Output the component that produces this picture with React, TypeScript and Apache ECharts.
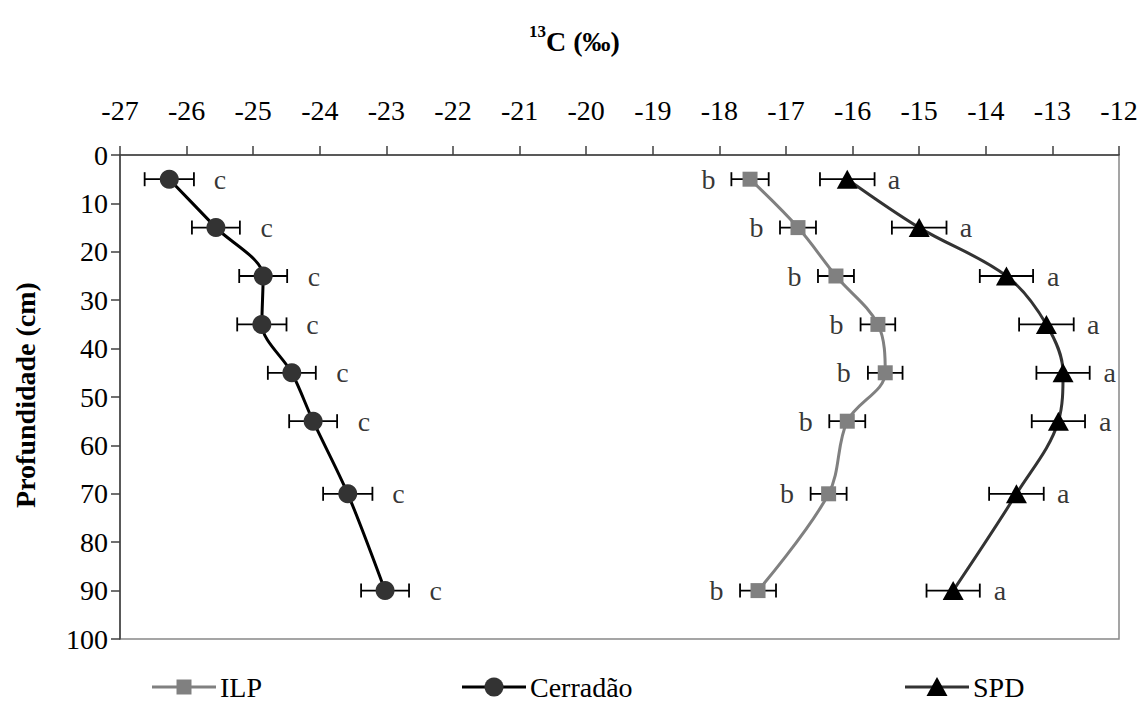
import React, { useEffect, useRef } from "react";
import * as echarts from "echarts";

const depths = [5, 15, 25, 35, 45, 55, 70, 90];
const cerradao = [-26.26, -25.56, -24.85, -24.87, -24.42, -24.1, -23.58, -23.02];
const ilp = [-17.54, -16.82, -16.25, -15.62, -15.51, -16.08, -16.36, -17.42];
const spd = [-16.08, -15.0, -13.69, -13.09, -12.84, -12.91, -13.54, -14.49];
const cerradaoErr = [0.37, 0.36, 0.36, 0.37, 0.36, 0.36, 0.37, 0.36];
const ilpErr = [0.28, 0.27, 0.27, 0.26, 0.26, 0.27, 0.27, 0.27];
const spdErr = [0.41, 0.41, 0.4, 0.41, 0.4, 0.4, 0.41, 0.4];
const cerradaoLetters = ["c", "c", "c", "c", "c", "c", "c", "c"];
const ilpLetters = ["b", "b", "b", "b", "b", "b", "b", "b"];
const spdLetters = ["a", "a", "a", "a", "a", "a", "a", "a"];
const xTicks = { min: -27, max: -12, interval: 1 };
const yTicks = { min: 0, max: 100, interval: 10 };
const seriesNames = ["ILP", "Cerradão", "SPD"];

const FAMILY = "'Liberation Serif'";
const FS = 28;

function pairs(xs: number[]) {
  return xs.map((x, i) => [x, depths[i]]);
}
function errData(xs: number[], es: number[]) {
  return xs.map((x, i) => [x, depths[i], es[i]]);
}
function tickValues(t: { min: number; max: number; interval: number }) {
  const out: number[] = [];
  for (let v = t.min; v <= t.max + 1e-9; v += t.interval) out.push(v);
  return out;
}

function errorBarSeries(xs: number[], es: number[]) {
  return {
    type: "custom",
    z: 1,
    silent: true,
    data: errData(xs, es),
    encode: { x: 0, y: 1 },
    renderItem: (params: any, api: any) => {
      const x = api.value(0);
      const y = api.value(1);
      const e = api.value(2);
      const p1 = api.coord([x - e, y]);
      const p2 = api.coord([x + e, y]);
      const h = 7;
      const st = { stroke: "#000", lineWidth: 1.8 };
      return {
        type: "group",
        children: [
          { type: "line", shape: { x1: p1[0], y1: p1[1], x2: p2[0], y2: p2[1] }, style: st },
          { type: "line", shape: { x1: p1[0], y1: p1[1] - h, x2: p1[0], y2: p1[1] + h }, style: st },
          { type: "line", shape: { x1: p2[0], y1: p2[1] - h, x2: p2[0], y2: p2[1] + h }, style: st },
        ],
      };
    },
  };
}

function letterSeries(xs: number[], letters: string[], position: string, distance: number) {
  return {
    type: "scatter",
    z: 5,
    silent: true,
    symbolSize: 1,
    itemStyle: { color: "rgba(0,0,0,0)" },
    data: pairs(xs),
    label: {
      show: true,
      position,
      distance,
      formatter: (p: any) => letters[p.dataIndex],
      fontFamily: "'Liberation Serif', 'DejaVu Serif', serif",
      fontSize: FS,
      color: "#000",
    },
  };
}

export default function App() {
  const ref = useRef<HTMLDivElement>(null);
  useEffect(() => {
    if (!ref.current) return;
    const chart = echarts.init(ref.current, null, { renderer: "svg" });
    const gridTop = 155;
    const gridLeft = 120;

    const txt = (
      x: number,
      y: number,
      text: string,
      opts: { size?: number; bold?: boolean; align?: string; rotation?: number } = {}
    ) => ({
      type: "text",
      x,
      y,
      rotation: opts.rotation || 0,
      silent: true,
      style: {
        text,
        fill: "#000",
        font: `${opts.bold ? "bold " : ""}${opts.size || FS}px ${FAMILY}`,
        align: opts.align || "center",
        verticalAlign: "middle",
      },
    });

    const baseOption: any = {
      animation: false,
      backgroundColor: "#fff",
      grid: {
        left: gridLeft,
        top: gridTop,
        width: 999,
        height: 484,
        show: true,
        borderColor: "#888",
        borderWidth: 1.5,
        backgroundColor: "transparent",
      },
      xAxis: {
        type: "value",
        position: "top",
        min: xTicks.min,
        max: xTicks.max,
        interval: xTicks.interval,
        axisLine: { show: true, lineStyle: { color: "#404040", width: 1.5 } },
        axisTick: { show: true, inside: false, length: 9, lineStyle: { color: "#404040", width: 1.5 } },
        axisLabel: { show: false },
        splitLine: { show: false },
      },
      yAxis: {
        type: "value",
        inverse: true,
        min: yTicks.min,
        max: yTicks.max,
        interval: yTicks.interval,
        axisLine: { show: true, lineStyle: { color: "#404040", width: 1.5 } },
        axisTick: { show: true, inside: false, length: 9, lineStyle: { color: "#404040", width: 1.5 } },
        axisLabel: { show: false },
        splitLine: { show: false },
      },
      series: [
        errorBarSeries(ilp, ilpErr),
        errorBarSeries(cerradao, cerradaoErr),
        errorBarSeries(spd, spdErr),
        {
          name: seriesNames[0],
          type: "line",
          z: 3,
          smooth: 0.35,
          data: pairs(ilp),
          symbol: "rect",
          symbolSize: 15,
          itemStyle: { color: "#808080" },
          lineStyle: { color: "#808080", width: 3 },
        },
        {
          name: seriesNames[1],
          type: "line",
          z: 3,
          smooth: 0.3,
          data: pairs(cerradao),
          symbol: "circle",
          symbolSize: 19,
          itemStyle: { color: "#333333" },
          lineStyle: { color: "#000", width: 3 },
        },
        {
          name: seriesNames[2],
          type: "line",
          z: 3,
          smooth: 0.35,
          data: pairs(spd),
          symbol: "triangle",
          symbolSize: [21, 19],
          itemStyle: { color: "#000" },
          lineStyle: { color: "#333333", width: 3 },
        },
        letterSeries(cerradao, cerradaoLetters, "right", 44),
        letterSeries(ilp, ilpLetters, "left", 34),
        letterSeries(spd, spdLetters, "right", 40),
      ],
    };
    chart.setOption(baseOption);

    const g: any[] = [];
    tickValues(xTicks).forEach((v) => {
      const px = chart.convertToPixel({ xAxisIndex: 0 }, v) as number;
      g.push(txt(px, gridTop - 45, String(v)));
    });
    tickValues(yTicks).forEach((v) => {
      const py = chart.convertToPixel({ yAxisIndex: 0 }, v) as number;
      g.push(txt(gridLeft - 12, py, String(v), { align: "right" }));
    });
    g.push(txt(25, 395, "Profundidade (cm)", { bold: true, size: 28, rotation: Math.PI / 2 }));
    g.push(txt(546, 41, "C (‰)", { bold: true, size: 28, align: "left" }));
    g.push(txt(546, 31, "13", { bold: true, size: 17, align: "right" }));

    const legendY = 687;
    const legendX = [152, 462, 905];
    const lineColors = ["#808080", "#000", "#333333"];
    const markColors = ["#808080", "#333333", "#000"];
    const iconW = 64;
    legendX.forEach((x0, i) => {
      const cx = x0 + iconW / 2;
      g.push({
        type: "line",
        silent: true,
        shape: { x1: x0, y1: legendY, x2: x0 + iconW, y2: legendY },
        style: { stroke: lineColors[i], lineWidth: 3 },
      });
      if (i === 0) {
        g.push({
          type: "rect",
          silent: true,
          shape: { x: cx - 7.5, y: legendY - 7.5, width: 15, height: 15 },
          style: { fill: markColors[i] },
        });
      } else if (i === 1) {
        g.push({
          type: "circle",
          silent: true,
          shape: { cx, cy: legendY, r: 9.5 },
          style: { fill: markColors[i] },
        });
      } else {
        g.push({
          type: "polygon",
          silent: true,
          shape: { points: [[cx, legendY - 10], [cx + 10.5, legendY + 9], [cx - 10.5, legendY + 9]] },
          style: { fill: markColors[i] },
        });
      }
      g.push(txt(x0 + iconW + 4, legendY, seriesNames[i], { align: "left" }));
    });

    chart.setOption({ graphic: g });
    return () => chart.dispose();
  }, []);
  return (
    <div
      ref={ref}
      style={{ position: "absolute", left: 0, top: 0, width: 1144, height: 711 }}
    />
  );
}
